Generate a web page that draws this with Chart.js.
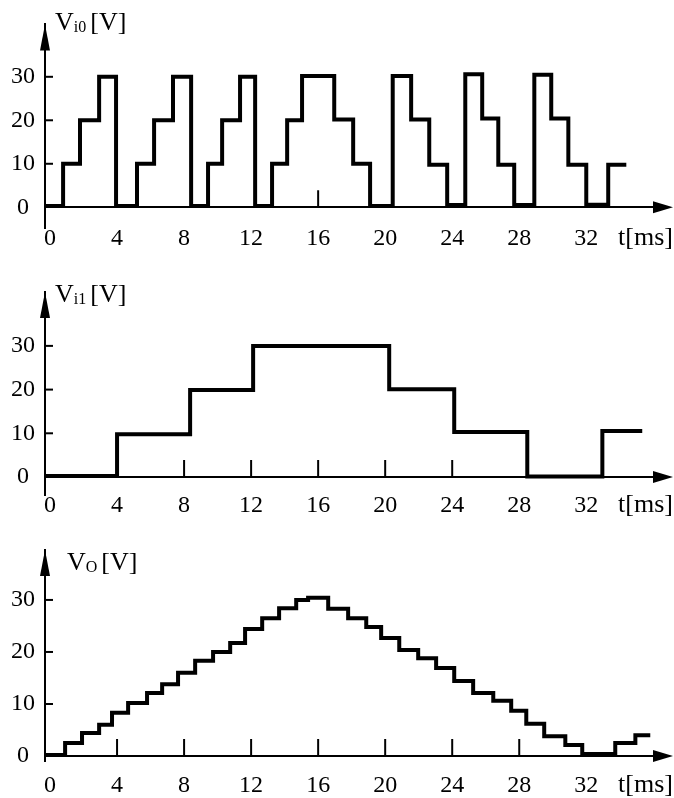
<!DOCTYPE html>
<html>
<head>
<meta charset="utf-8">
<script src="https://cdn.jsdelivr.net/npm/chart.js@4.4.0/dist/chart.umd.min.js"></script>
<style>
  body { margin: 0; background: #fff; }
  #wrap { position: relative; width: 674px; height: 798px; }
  canvas { position: absolute; left: 0; }
</style>
</head>
<body>
<div id="wrap">
  <canvas id="c0" width="674" height="258" style="top:0"></canvas>
  <canvas id="c1" width="674" height="267" style="top:258px"></canvas>
  <canvas id="c2" width="674" height="273" style="top:525px"></canvas>
</div>
<script>
// axis labels
const timeTicks = [0, 4, 8, 12, 16, 20, 24, 28, 32];
const voltTicks = [0, 10, 20, 30];

// Vi0: time [ms] where each level starts, level [V]
const vi0Time = [-0.3, 0.78, 1.79, 2.93, 3.94, 5.19, 6.21, 7.34, 8.42, 9.43, 10.27, 11.34,
  12.24, 13.25, 14.15, 15.04, 16.96, 18.09, 19.10, 20.45, 21.55, 22.63, 23.70, 24.78,
  25.79, 26.75, 27.70, 28.90, 29.91, 30.93, 32.00, 33.31, 34.39];
const vi0Volt = [0.3, 10, 20, 30, 0.3, 10, 20, 30, 0.3, 10, 20, 30,
  0.3, 10, 20, 30.2, 20.2, 10, 0.3, 30.2, 20.2, 9.8, 0.5, 30.6,
  20.4, 9.8, 0.5, 30.5, 20.4, 9.8, 0.6, 9.8, 9.8];

// Vi1
const vi1Time = [-0.3, 4.0, 8.36, 12.12, 20.24, 24.12, 28.48, 32.96, 35.34];
const vi1Volt = [0.2, 9.8, 19.9, 30, 20.1, 10.3, 0.1, 10.5, 10.5];

// Vo
const voTime = [-0.3, 0.90, 1.91, 2.93, 3.70, 4.66, 5.79, 6.69, 7.64, 8.66, 9.73, 10.75,
  11.64, 12.66, 13.67, 14.69, 15.40, 16.60, 17.79, 18.87, 19.76, 20.84, 21.97, 23.04,
  24.12, 25.25, 26.45, 27.52, 28.42, 29.49, 30.75, 31.76, 33.73, 34.93, 35.82];
const voVolt = [0.2, 2.5, 4.4, 6.0, 8.3, 10.2, 12.1, 13.8, 16.0, 18.3, 20.0, 21.7,
  24.4, 26.5, 28.4, 30.0, 30.4, 28.3, 26.5, 24.8, 22.7, 20.4, 18.8, 16.9,
  14.4, 12.1, 10.6, 8.7, 6.2, 3.8, 2.1, 0.4, 2.5, 4.0, 4.0];

// little tick marks on the time axis that are visible in each panel
const vi0Marks = [16];
const vi1Marks = [8, 12, 16, 20, 24];
const voMarks = [4, 8, 12, 16, 20, 24, 28];

const serif = '"Liberation Serif", "Times New Roman", serif';

// arrows, inner ticks, axis names
const decor = {
  id: 'decor',
  afterDraw(chart, args, o) {
    const ctx = chart.ctx;
    const xs = chart.scales.x, ys = chart.scales.y;
    const ax = chart.chartArea.left;
    const top = chart.chartArea.top;
    const y0 = ys.getPixelForValue(0);
    ctx.save();
    ctx.fillStyle = '#000';
    ctx.strokeStyle = '#000';

    ctx.beginPath();
    ctx.moveTo(ax, top);
    ctx.lineTo(ax - 5, top + 26);
    ctx.lineTo(ax + 5, top + 26);
    ctx.closePath();
    ctx.fill();

    ctx.beginPath();
    ctx.moveTo(673, y0);
    ctx.lineTo(653, y0 - 6);
    ctx.lineTo(653, y0 + 6);
    ctx.closePath();
    ctx.fill();

    ctx.lineWidth = 2;
    voltTicks.forEach(v => {
      if (v === 0) return;
      const y = ys.getPixelForValue(v);
      ctx.beginPath();
      ctx.moveTo(ax, y);
      ctx.lineTo(ax + 8, y);
      ctx.stroke();
    });
    o.marks.forEach(t => {
      const x = xs.getPixelForValue(t);
      ctx.beginPath();
      ctx.moveTo(x, y0);
      ctx.lineTo(x, y0 - 17);
      ctx.stroke();
    });

    ctx.textAlign = 'left';
    ctx.textBaseline = 'alphabetic';
    let x = o.titleX;
    ctx.font = '26px ' + serif;
    ctx.fillText('V', x, o.titleY);
    x += ctx.measureText('V').width;
    ctx.font = '16px ' + serif;
    ctx.fillText(o.sub, x, o.titleY + 2);
    x += ctx.measureText(o.sub).width + 4;
    ctx.font = '26px ' + serif;
    ctx.fillText('[V]', x, o.titleY);

    ctx.textAlign = 'right';
    ctx.textBaseline = 'middle';
    ctx.fillText('t[ms]', 673, y0 + o.labelPad + 14);
    ctx.restore();
  }
};

function panel(id, times, volts, cfg) {
  const pts = times.map((t, i) => ({ x: t, y: volts[i] }));
  return new Chart(document.getElementById(id), {
    type: 'line',
    data: {
      datasets: [{
        data: pts,
        stepped: true,
        borderColor: '#000',
        borderWidth: 4,
        pointRadius: 0,
        fill: false,
        borderJoinStyle: 'miter',
        borderCapStyle: 'butt'
      }]
    },
    options: {
      responsive: false,
      animation: false,
      events: [],
      layout: { padding: { top: cfg.top, right: 14, left: 0, bottom: cfg.bottom } },
      plugins: {
        legend: { display: false },
        tooltip: { enabled: false },
        decor: cfg
      },
      scales: {
        x: {
          type: 'linear',
          min: -0.3,
          max: 36.4,
          position: { y: 0 },
          grid: { display: false, drawTicks: false },
          border: { display: true, color: '#000', width: 2 },
          ticks: { color: '#000', font: { family: serif, size: 24 }, padding: cfg.labelPad, maxRotation: 0, autoSkip: false },
          afterBuildTicks: s => { s.ticks = timeTicks.map(v => ({ value: v })); }
        },
        y: {
          type: 'linear',
          min: cfg.ymin,
          max: cfg.ymax,
          grid: { display: false, drawTicks: false },
          border: { display: true, color: '#000', width: 2 },
          ticks: { color: '#000', font: { family: serif, size: 24 }, padding: 10, crossAlign: 'center' },
          afterBuildTicks: s => { s.ticks = voltTicks.map(v => ({ value: v })); },
          afterFit: s => { s.width = 45; }
        }
      }
    },
    plugins: [decor]
  });
}

panel('c0', vi0Time, vi0Volt, { top: 22, bottom: 30, ymin: -4.77, ymax: 42.05, labelPad: 17, marks: vi0Marks, titleX: 55, titleY: 30, sub: 'i0' });
panel('c1', vi1Time, vi1Volt, { top: 34, bottom: 30, ymin: -4.12, ymax: 42.33, labelPad: 14, marks: vi1Marks, titleX: 55, titleY: 44, sub: 'i1' });
panel('c2', voTime, voVolt, { top: 25, bottom: 37, ymin: -0.96, ymax: 39.6, labelPad: 15, marks: voMarks, titleX: 67, titleY: 45, sub: 'O' });
</script>
</body>
</html>
